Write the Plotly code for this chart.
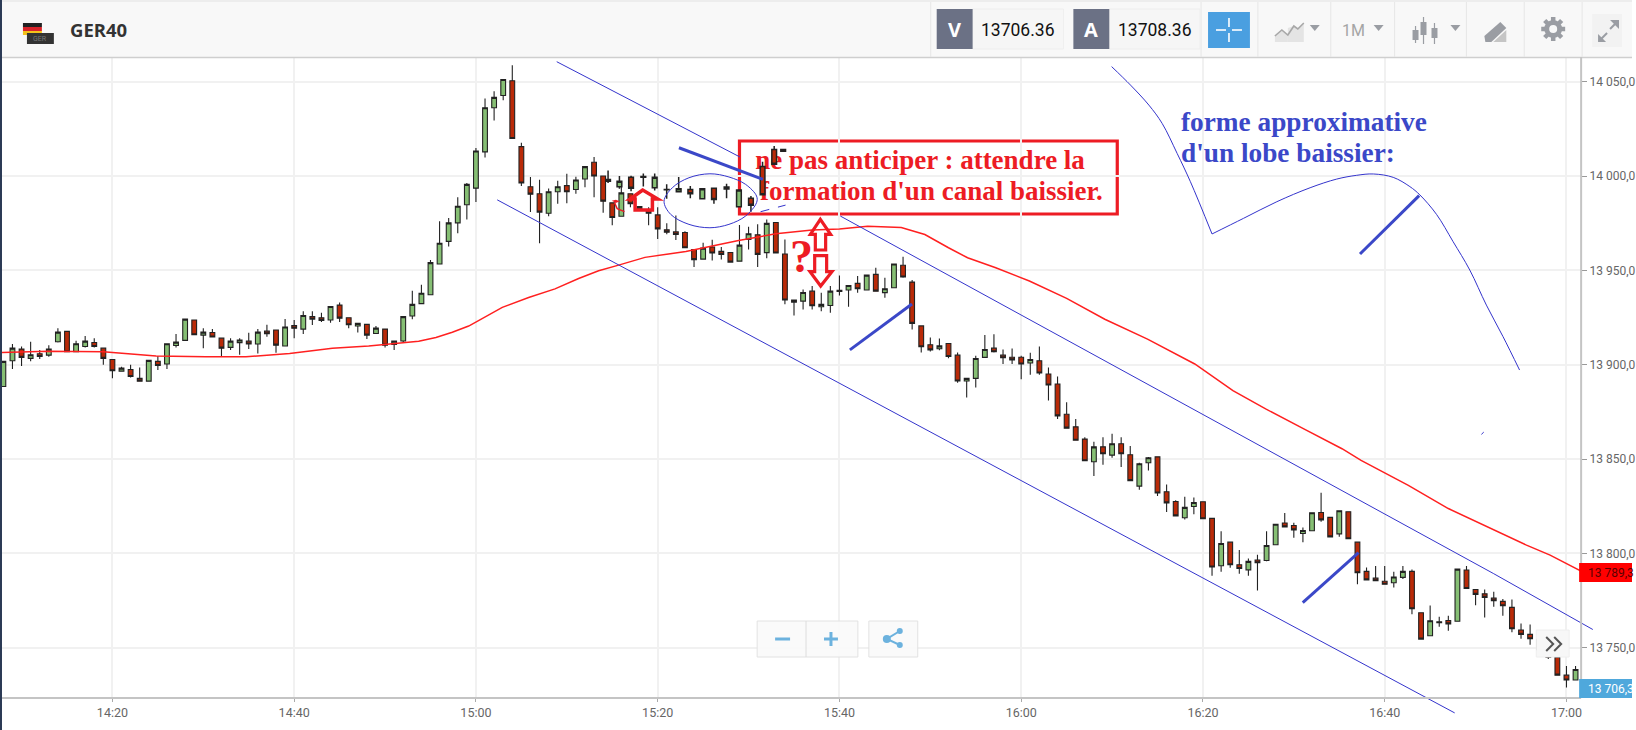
import plotly.graph_objects as go

W = 1636
H = 730

# candles, one per minute, minutes counted from 14:00
minutes = list(range(8, 182))
opens = [
    13888.5, 13902.1, 13908.3, 13903.4, 13905.8, 13905.1, 13912.2, 13917.7, 13906.9, 13909.7,
    13911.8, 13908.8, 13902.8, 13896.6, 13897.5, 13892.8, 13891.3, 13901.8, 13900.4, 13910.2,
    13912.9, 13923.7, 13915.7, 13917.1, 13914.1, 13909.2, 13911.7, 13912.5, 13911.0, 13917.8,
    13918.4, 13909.9, 13920.8, 13918.9, 13925.6, 13924.9, 13923.7, 13931.6, 13924.9, 13920.5,
    13921.4, 13916.6, 13918.9, 13910.8, 13912.6, 13925.8, 13932.4, 13937.1, 13953.4, 13965.4,
    13975.2, 13984.8, 13993.6, 14012.8, 14036.2, 14042.7, 14050.5, 14015.6, 13994.3, 13990.6,
    13980.3, 13991.7, 13994.9, 13992.9, 13998.4, 14007.3, 14000.0, 13985.8, 13978.7, 13990.6,
    13983.9, 13982.1, 13979.4, 13971.5, 13970.4, 13970.1, 13961.1, 13956.0, 13962.4, 13960.1,
    13959.5, 13954.9, 13966.4, 13968.9, 13959.4, 13975.4, 13958.7, 13934.3, 13933.7, 13939.0,
    13930.7, 13931.4, 13938.9, 13939.6, 13943.1, 13939.6, 13947.9, 13938.2, 13940.8, 13952.7,
    13943.8, 13920.6, 13910.6, 13908.5, 13911.3, 13905.1, 13891.4, 13892.8, 13903.9, 13908.8,
    13905.1, 13904.0, 13904.0, 13900.9, 13902.1, 13895.1, 13889.8, 13873.8, 13867.1, 13860.6,
    13848.6, 13856.5, 13852.1, 13858.1, 13852.3, 13835.7, 13848.1, 13851.2, 13832.7, 13827.5,
    13818.9, 13824.9, 13827.4, 13818.6, 13793.5, 13806.0, 13794.0, 13791.3, 13796.5, 13796.3,
    13804.6, 13816.1, 13814.8, 13810.6, 13812.0, 13821.7, 13819.1, 13810.4, 13822.1, 13806.0,
    13790.5, 13786.9, 13785.3, 13784.5, 13787.3, 13790.5, 13768.6, 13756.4, 13763.3, 13764.5,
    13764.1, 13791.2, 13780.9, 13778.6, 13776.3, 13774.6, 13771.4, 13759.4, 13757.1, 13754.5,
    13749.0, 13745.0, 13735.5, 13732.9,
]
highs = [
    13901.8, 13911.0, 13909.7, 13912.2, 13907.8, 13910.4, 13919.4, 13917.7, 13912.7, 13915.2,
    13914.1, 13908.8, 13902.8, 13898.9, 13900.0, 13898.6, 13902.3, 13904.6, 13911.1, 13916.3,
    13924.2, 13923.7, 13919.4, 13918.9, 13914.1, 13914.1, 13914.1, 13917.0, 13918.9, 13921.2,
    13918.4, 13924.2, 13923.7, 13928.3, 13928.3, 13927.6, 13930.9, 13933.0, 13924.9, 13922.3,
    13921.4, 13920.5, 13918.9, 13912.5, 13925.5, 13939.2, 13942.4, 13955.5, 13976.1, 13977.8,
    13988.7, 13996.3, 14014.9, 14041.1, 14044.9, 14051.2, 14058.7, 14017.7, 13999.5, 13998.0,
    13993.4, 13997.5, 14001.2, 13999.6, 14005.0, 14010.1, 14000.0, 13985.8, 13995.0, 13990.6,
    13984.0, 13983.5, 13983.5, 13975.0, 13979.1, 13970.8, 13961.1, 13964.7, 13966.3, 13962.4,
    13959.5, 13974.0, 13973.1, 13974.4, 13977.0, 13975.4, 13966.4, 13934.3, 13939.9, 13941.7,
    13938.2, 13941.7, 13947.3, 13942.0, 13947.0, 13947.5, 13951.4, 13946.1, 13953.4, 13957.2,
    13944.9, 13920.6, 13914.4, 13913.9, 13911.3, 13906.5, 13892.8, 13904.8, 13915.7, 13916.2,
    13908.1, 13908.6, 13904.8, 13906.3, 13909.7, 13898.6, 13893.8, 13880.1, 13871.3, 13861.6,
    13859.2, 13861.6, 13863.4, 13861.6, 13856.9, 13848.1, 13851.1, 13851.2, 13836.6, 13828.2,
    13830.0, 13829.7, 13827.4, 13818.6, 13811.8, 13806.0, 13801.8, 13797.3, 13799.3, 13811.8,
    13815.5, 13821.4, 13816.3, 13813.8, 13821.6, 13832.2, 13819.1, 13822.6, 13822.1, 13806.0,
    13792.6, 13793.3, 13793.3, 13790.3, 13793.3, 13791.5, 13768.6, 13772.4, 13766.4, 13767.0,
    13791.7, 13793.3, 13780.9, 13780.9, 13779.7, 13775.8, 13775.6, 13762.9, 13762.4, 13755.0,
    13749.5, 13745.0, 13740.3, 13740.3,
]
lows = [
    13888.5, 13897.7, 13899.3, 13901.8, 13903.0, 13904.2, 13911.8, 13906.9, 13906.9, 13909.2,
    13909.2, 13900.0, 13892.9, 13896.3, 13893.3, 13891.3, 13891.3, 13897.2, 13897.7, 13909.2,
    13912.9, 13915.9, 13908.8, 13914.7, 13904.2, 13907.8, 13905.3, 13908.3, 13906.0, 13914.8,
    13906.4, 13909.9, 13914.1, 13916.3, 13921.0, 13922.6, 13922.3, 13922.6, 13919.4, 13917.1,
    13913.6, 13916.6, 13909.2, 13907.8, 13911.7, 13924.1, 13932.4, 13937.1, 13953.4, 13962.6,
    13969.7, 13977.0, 13986.3, 14009.8, 14029.4, 14040.2, 14019.9, 13994.7, 13981.0, 13964.4,
    13978.7, 13985.3, 13985.6, 13990.6, 13994.1, 13988.8, 13980.5, 13973.9, 13978.7, 13983.5,
    13982.0, 13973.9, 13966.7, 13969.1, 13966.1, 13962.0, 13951.8, 13956.0, 13955.3, 13955.8,
    13954.1, 13954.9, 13961.1, 13951.8, 13956.4, 13959.0, 13932.0, 13926.1, 13929.3, 13929.3,
    13928.4, 13927.6, 13936.7, 13930.7, 13938.2, 13939.6, 13939.0, 13935.5, 13940.8, 13946.1,
    13918.7, 13906.5, 13907.0, 13907.7, 13903.5, 13890.5, 13882.7, 13888.0, 13903.9, 13906.5,
    13900.4, 13900.4, 13892.3, 13894.7, 13894.7, 13881.0, 13871.3, 13866.4, 13860.0, 13849.1,
    13841.0, 13847.0, 13850.7, 13845.8, 13838.6, 13833.8, 13844.0, 13830.5, 13822.0, 13819.9,
    13818.0, 13820.8, 13818.4, 13788.2, 13790.3, 13792.4, 13789.2, 13788.2, 13780.4, 13795.9,
    13804.6, 13814.1, 13808.3, 13806.0, 13812.0, 13816.8, 13808.8, 13808.8, 13807.8, 13783.7,
    13786.0, 13785.5, 13783.7, 13782.0, 13786.4, 13767.8, 13754.6, 13756.4, 13761.1, 13759.0,
    13764.1, 13781.4, 13772.6, 13766.1, 13771.7, 13767.0, 13758.3, 13754.8, 13751.6, 13747.0,
    13744.0, 13735.5, 13729.0, 13732.9,
]
closes = [
    13901.8, 13908.8, 13903.9, 13905.3, 13904.4, 13908.3, 13917.3, 13906.9, 13911.1, 13912.5,
    13909.7, 13903.4, 13896.8, 13898.2, 13893.8, 13891.3, 13902.3, 13899.6, 13911.1, 13912.0,
    13924.2, 13915.9, 13917.3, 13914.7, 13908.8, 13912.5, 13913.1, 13911.0, 13917.3, 13916.4,
    13910.4, 13920.0, 13919.4, 13926.1, 13924.2, 13923.5, 13930.9, 13924.7, 13921.2, 13921.9,
    13915.7, 13919.4, 13910.4, 13912.5, 13925.5, 13932.0, 13937.9, 13954.1, 13964.4, 13975.2,
    13984.0, 13995.6, 14013.3, 14036.2, 14041.7, 14051.2, 14019.9, 13996.3, 13990.4, 13980.9,
    13991.7, 13994.3, 13991.7, 13997.9, 14005.0, 14000.0, 13986.7, 13978.0, 13991.1, 13985.3,
    13982.8, 13980.3, 13972.0, 13970.2, 13969.0, 13962.0, 13955.7, 13961.8, 13959.2, 13958.5,
    13954.4, 13963.4, 13969.4, 13958.5, 13974.9, 13959.2, 13934.3, 13933.2, 13938.3, 13931.3,
    13932.0, 13939.0, 13939.4, 13942.0, 13940.3, 13947.5, 13939.0, 13940.3, 13953.4, 13946.5,
    13921.9, 13909.5, 13907.9, 13910.0, 13904.4, 13891.4, 13892.8, 13903.3, 13908.1, 13906.9,
    13903.7, 13902.6, 13900.4, 13902.8, 13895.6, 13889.3, 13872.9, 13866.4, 13860.0, 13849.1,
    13856.5, 13852.8, 13858.1, 13852.8, 13838.6, 13847.5, 13850.7, 13832.0, 13826.8, 13819.9,
    13824.4, 13827.0, 13818.4, 13792.8, 13805.3, 13794.0, 13792.0, 13795.8, 13795.1, 13804.2,
    13815.5, 13814.1, 13812.5, 13812.2, 13821.6, 13817.8, 13808.8, 13822.6, 13807.8, 13789.8,
    13786.0, 13785.5, 13783.7, 13787.5, 13790.5, 13770.7, 13754.6, 13764.3, 13763.8, 13762.7,
    13791.7, 13781.4, 13778.3, 13776.7, 13774.9, 13772.3, 13760.1, 13757.1, 13754.8, 13749.0,
    13745.0, 13735.5, 13732.9, 13738.5,
]

# the enlarged strip of candles pasted over the chart by the author
paste_minutes = [74.54, 75.79, 77.07, 78.42, 79.67, 80.99, 82.31, 83.59,
                 84.91, 86.19, 87.58, 88.94, 90.26, 91.54, 92.82, 93.81]
paste_open = [13998.2, 13994.3, 13999.3, 13999.3, 13993.8, 13992.7, 13991.7, 13992.9,
              13988.0, 13993.5, 13993.1, 13983.7, 13988.2, 14005.1, 14014.1, 14014.1]
paste_high = [14003.0, 14000.0, 14000.2, 14001.4, 14001.4, 13995.6, 13999.5, 13994.7,
              13993.3, 13993.5, 13995.9, 13992.6, 13989.4, 14007.6, 14015.9, 14014.1]
paste_low = [13996.3, 13993.3, 13992.0, 13994.5, 13992.4, 13988.0, 13991.7, 13988.2,
             13988.0, 13985.3, 13988.2, 13983.7, 13981.1, 13990.1, 14006.2, 14013.2]
paste_close = [13997.3, 13997.3, 13993.6, 13999.8, 13999.3, 13992.9, 13993.3, 13990.6,
               13993.3, 13987.6, 13994.2, 13992.6, 13984.5, 13990.1, 14006.2, 14013.2]

# moving average
ma_minutes = [7.6, 12.9, 19.0, 24.8, 30.3, 34.7, 39.5, 44.2, 48.2, 51.9, 53.7, 55.6, 57.4, 59.2,
              61.1, 62.9, 65.8, 68.7, 71.3, 73.5, 75.7, 78.6, 83.1, 88.9, 93.0, 97.0, 100.0,
              103.1, 106.8, 109.4, 112.0, 114.1, 117.2, 120.9, 125.0, 129.2, 133.9, 139.1,
              143.3, 146.9, 151.1, 155.3, 157.4, 162.6, 167.0, 172.0, 175.6, 178.2, 181.6]
ma_values = [13906.5, 13907.2, 13906.9, 13904.6, 13904.2, 13904.2, 13906.0, 13908.7, 13909.9,
             13911.4, 13912.4, 13914.4, 13917.2, 13920.5, 13925.5, 13930.4, 13935.6, 13940.2,
             13945.7, 13949.8, 13952.8, 13956.9, 13960.0, 13965.9, 13969.4, 13971.4, 13972.0,
             13973.4, 13972.7, 13969.0, 13962.0, 13956.7, 13951.4, 13944.4, 13935.2, 13924.1,
             13913.6, 13900.4, 13886.3, 13876.6, 13866.0, 13855.5, 13849.3, 13836.1, 13823.8,
             13812.3, 13804.4, 13799.1, 13790.7]

# hand drawn lines, the gap is where the text box hides the upper channel
upper_minutes = [68.89, 89.05, None, 100.1, 171.95, 182.9]
upper_values = [14060.6, 14010.1, None, 13978.8, 13789.4, 13759.7]
lower_minutes = [62.34, 167.7]
lower_values = [13987.4, 13715.5]
lobe_left_minutes = [129.95, 132.03, 134.05, 135.51, 137.16, 138.62, 141.0]
lobe_left_values = [14058.0, 14048.2, 14037.6, 14027.9, 14012.0, 13997.0, 13969.3]
lobe_right_minutes = [141.0, 144.47, 148.13, 151.79, 154.72, 156.92, 158.75, 160.94, 162.77,
                      163.87, 165.7, 167.53, 169.36, 171.19, 173.02, 174.84]
lobe_right_values = [13969.3, 13977.6, 13986.4, 13993.8, 13998.4, 14000.4, 14001.1, 13999.3,
                     13994.4, 13990.0, 13979.7, 13965.2, 13950.2, 13931.6, 13914.9, 13897.2]
speck_minutes = [170.64, 170.9]
speck_values = [13863.1, 13864.3]
ellipse_minutes = [90.88, 89.67, 87.84, 85.75, 83.44, 81.61, 80.7, 81.43, 83.44, 85.75, 87.84,
                   89.67, 90.88, 90.88]
ellipse_values = [13989.4, 13995.6, 13999.5, 14001.2, 13999.1, 13993.8, 13986.7, 13979.7,
                  13974.4, 13972.6, 13974.4, 13978.8, 13985.9, 13989.4]
tail_minutes = [91.32, 94.07]
tail_values = [13981.1, 13984.6]
strokes = [
    ([82.34, 91.58], [14015.0, 13998.2]),
    ([101.15, 107.98], [13907.9, 13932.2]),
    ([150.98, 157.12], [13773.9, 13800.5]),
    ([157.28, 163.79], [13958.7, 13989.6]),
]

x_ticks = [20, 40, 60, 80, 100, 120, 140, 160, 180]
x_labels = ["14:20", "14:40", "15:00", "15:20", "15:40", "16:00", "16:20", "16:40", "17:00"]
y_ticks = [13750, 13800, 13850, 13900, 13950, 14000, 14050]
y_labels = ["13 750,0", "13 800,0", "13 850,0", "13 900,0", "13 950,0", "14 000,0", "14 050,0"]

GREEN = "#86bf74"
RED = "#b92a08"
BLUE = "#3b48c8"
ALERT = "#ed1c24"
ICON = "#9a9da3"
SKY = "#6cb2de"
SERIF = "Liberation Serif"


# pixel <-> chart conversions
def minute_at(px):
    return 20 + (px - 112.7) / 9.11


def price_at(py):
    return 14050 - (py - 81.7) / 1.887


def fx(px):
    return px / W


def fy(py):
    return 1 - py / H


shapes = []
annotations = []


def rect(x0, y0, x1, y1, fill, line=None, width=1, layer="above"):
    shapes.append(dict(type="rect", xref="paper", yref="paper", x0=fx(x0), x1=fx(x1), y0=fy(y0), y1=fy(y1),
                       fillcolor=fill, line=dict(color=line or fill, width=width if line else 0), layer=layer))


def seg(x0, y0, x1, y1, color, width=1):
    shapes.append(dict(type="line", xref="paper", yref="paper", x0=fx(x0), x1=fx(x1), y0=fy(y0), y1=fy(y1),
                       line=dict(color=color, width=width), layer="above"))


def poly(points, line=None, width=1, fill="rgba(0,0,0,0)", close=True):
    path = "M " + " L ".join(f"{fx(a):.5f},{fy(b):.5f}" for a, b in points) + (" Z" if close else "")
    shapes.append(dict(type="path", xref="paper", yref="paper", path=path, fillcolor=fill,
                       line=dict(color=line or fill, width=width if line else 0), layer="above"))


def dot(cx, cy, r, fill, line=None, width=0):
    shapes.append(dict(type="circle", xref="paper", yref="paper", x0=fx(cx - r), x1=fx(cx + r), y0=fy(cy + r), y1=fy(cy - r),
                       fillcolor=fill, line=dict(color=line or fill, width=width), layer="above"))


def label(px, py, text, size, color, anchor="center", family="Roboto", bold=False):
    annotations.append(dict(xref="paper", yref="paper", x=fx(px), y=fy(py), text=f"<b>{text}</b>" if bold else text,
                            showarrow=False, xanchor=anchor, yanchor="middle", borderpad=0, borderwidth=0,
                            font=dict(size=size, color=color, family=family)))


fig = go.Figure()

fig.add_trace(go.Candlestick(
    x=minutes, open=opens, high=highs, low=lows, close=closes,
    increasing=dict(line=dict(color="#222222", width=1.1), fillcolor=GREEN),
    decreasing=dict(line=dict(color="#222222", width=1.1), fillcolor=RED),
    hoverinfo="skip",
))
fig.add_trace(go.Scatter(x=ma_minutes, y=ma_values, mode="lines", line=dict(color="#ff2020", width=1.5), hoverinfo="skip"))
fig.add_trace(go.Scatter(
    x=[minute_at(757), minute_at(762)], y=[price_at(162), price_at(193)],
    text=["ne pas anticiper : attendre la", "formation d'un canal baissier."],
    mode="text", textposition="middle right", hoverinfo="skip",
    textfont=dict(family=SERIF, size=27, color=ALERT, weight="bold"),
))

# overlay axes span the whole page, so the drawings may run past the price axis
fig.add_trace(go.Candlestick(
    x=paste_minutes, open=paste_open, high=paste_high, low=paste_low, close=paste_close,
    xaxis="x2", yaxis="y2",
    increasing=dict(line=dict(color="#222222", width=1.5), fillcolor=GREEN),
    decreasing=dict(line=dict(color="#222222", width=1.5), fillcolor=RED),
    hoverinfo="skip",
))
for xs, ys, dash, shape in [
    (upper_minutes, upper_values, "solid", "linear"),
    (lower_minutes, lower_values, "solid", "linear"),
    (lobe_left_minutes, lobe_left_values, "solid", "spline"),
    (lobe_right_minutes, lobe_right_values, "solid", "spline"),
    (speck_minutes, speck_values, "solid", "linear"),
    (ellipse_minutes, ellipse_values, "solid", "spline"),
    (tail_minutes, tail_values, "dash", "linear"),
]:
    fig.add_trace(go.Scatter(x=xs, y=ys, mode="lines", xaxis="x2", yaxis="y2", hoverinfo="skip",
                             line=dict(color="#3434cc", width=1, dash=dash, shape=shape)))
for xs, ys in strokes:
    fig.add_trace(go.Scatter(x=xs, y=ys, mode="lines", xaxis="x2", yaxis="y2", hoverinfo="skip",
                             line=dict(color=BLUE, width=3)))

# text box, on the chart axes so it hides the grid but stays under the candles
shapes.append(dict(type="rect", xref="x", yref="y", x0=minute_at(741.3), x1=minute_at(1120),
                   y0=price_at(214), y1=price_at(141), fillcolor="white",
                   line=dict(color=ALERT, width=3.2), layer="below"))

# red arrows and question mark
poly([(630 + a / 3, 120 + b / 3) for a, b in [(43, 210), (5, 237), (20, 237), (20, 270), (72, 270), (72, 237), (88, 237)]],
     line=ALERT, width=3.5)
poly([(630 + a / 3, 120 + b / 3) for a, b in [(577, 298), (547, 343), (562, 343), (562, 390), (593, 390), (593, 343), (608, 343)]],
     line=ALERT, width=3.2)
poly([(630 + a / 3, 120 + b / 3) for a, b in [(578, 498), (546, 455), (560, 455), (560, 407), (596, 407), (596, 455), (612, 455)]],
     line=ALERT, width=3.2)
poly([(380 + a / 3, 50 + b / 3) for a, b in [(700, 452), (712, 449), (724, 454), (712, 459)]], fill=ALERT)
poly([(380 + a / 3, 50 + b / 3) for a, b in [(708, 458), (716, 476), (738, 485)]], line=ALERT, width=1.5, close=False)
label(803, 256, "?", 46, ALERT, family=SERIF, bold=True)
label(1184, 122, "forme approximative", 27.3, BLUE, anchor="left", family=SERIF, bold=True)
label(1184, 153, "d'un lobe baissier:", 27.3, BLUE, anchor="left", family=SERIF, bold=True)

# toolbar
rect(0, 0, W, 57, "#f8f8f8")
rect(0, 0, W, 2, "#ededed")
seg(2, 57.5, W, 57.5, "#cfcfcf", 1.5)
rect(0, 0, 2, H, "#2b3a55")
rect(23, 23, 42, 27, "#222222")
rect(23, 27, 42, 31, "#d8232a")
rect(23, 31, 42, 35, "#f3c21b")
rect(27, 33, 54, 44, "#333333")
label(40.5, 38.5, "GER", 7, "#777777")
label(70, 30, "GER40", 18.5, "#333333", anchor="left", family="Open Sans", bold=True)
for sep in [933, 1204, 1261, 1334, 1398, 1470, 1528, 1586]:
    seg(sep, 2, sep, 57, "#e6e6e6")
for box, text, val in [(939, "V", "13706.36"), (1076, "A", "13708.36")]:
    rect(box + 36, 9, box + 127, 49, "#f6f6f6", "#eeeeee")
    rect(box, 9, box + 36, 49, "#6b7185")
    label(box + 18, 30, text, 20, "white", family="Open Sans", bold=True)
    label(box + 81, 29.5, val, 17.5, "#111111")
rect(1211, 12, 1253, 48, "#4a9fe0")
seg(1232, 18, 1232, 27, "white", 1.6)
seg(1232, 33, 1232, 42, "white", 1.6)
seg(1219, 30, 1229, 30, "white", 1.6)
seg(1235, 30, 1245, 30, "white", 1.6)
poly([(1278, 42), (1278, 36), (1285, 30), (1291, 35), (1291, 42)], fill="#e4e4e4")
poly([(1291, 42), (1291, 28), (1297, 26), (1301, 29), (1307, 23), (1307, 42)], fill="#e4e4e4")
poly([(1278, 36), (1285, 30), (1291, 35), (1297, 26), (1301, 29), (1307, 23)], line="#a8a8a8", width=1.6, close=False)
poly([(1313, 25), (1323, 25), (1318, 31)], fill=ICON)
label(1357, 31, "1M", 16, "#a5a5a5")
poly([(1377, 25), (1387, 25), (1382, 31)], fill=ICON)
for cx, y0, y1, b0, b1 in [(1419, 26, 43, 30, 40), (1427, 17, 44, 22, 35), (1438, 23, 44, 28, 38)]:
    seg(cx, y0, cx, y1, ICON, 1.2)
    rect(cx - 3, b0, cx + 3, b1, ICON)
poly([(1454, 25), (1464, 25), (1459, 31)], fill=ICON)
poly([(1488, 36), (1504, 22), (1510, 28), (1495, 42), (1489, 42)], fill=ICON)
poly([(1497, 42), (1510, 30), (1510, 42)], fill="#c5c5c5")
# gear
for a0, b0, a1, b1 in [(1557, 17, 1557, 41), (1545, 29, 1569, 29), (1548.5, 20.5, 1565.5, 37.5), (1548.5, 37.5, 1565.5, 20.5)]:
    seg(a0, b0, a1, b1, ICON, 4.5)
dot(1557, 29, 9, ICON)
dot(1557, 29, 4, "#f8f8f8")
rect(1596, 14, 1626, 47, "#f2f2f2")
seg(1603, 41, 1611, 33, ICON, 2)
seg(1614, 29, 1621, 22, ICON, 2)
poly([(1602, 34), (1602, 42), (1610, 42)], fill=ICON)
poly([(1614, 20), (1623, 20), (1623, 29)], fill=ICON)

# bottom and right borders, price tags
seg(2, 698, 1585, 698, "#c4c4c4", 2)
seg(1585, 57, 1585, 698, "#c4c4c4", 2)
rect(1583, 563, W, 582, "#ff0000")
label(1592, 573, "13 789,3", 12, "#5a0000", anchor="left")
rect(1583, 679, W, 698, "#4fa8dc")
label(1592, 689, "13 706,3", 12, "white", anchor="left")

# floating buttons
rect(759, 621, 860, 657, "rgba(250,250,250,0.92)", "#e2e2e2")
seg(808, 621, 808, 657, "#dddddd")
seg(777, 639, 792, 639, SKY, 3)
seg(826, 639, 840, 639, SKY, 3)
seg(833, 632, 833, 646, SKY, 3)
rect(871, 621, 920, 657, "rgba(250,250,250,0.92)", "#e2e2e2")
poly([(902, 631), (889, 639), (902, 645)], line=SKY, width=2, close=False)
for cx, cy, r in [(902, 631, 3), (889, 639, 4), (902, 645, 3)]:
    dot(cx, cy, r, SKY)
rect(1540, 630, 1573, 657, "#f7f7f7", "#eeeeee")
poly([(1550, 637), (1557, 644), (1550, 651)], line="#555555", width=2, close=False)
poly([(1558, 637), (1565, 644), (1558, 651)], line="#555555", width=2, close=False)

fig.update_layout(
    width=W,
    height=H,
    margin=dict(l=0, r=0, t=0, b=0),
    showlegend=False,
    hovermode=False,
    paper_bgcolor="white",
    plot_bgcolor="rgba(0,0,0,0)",
    boxgap=0.25,
    shapes=shapes,
    annotations=annotations,
    xaxis=dict(
        domain=[fx(2), fx(1585)],
        range=[minute_at(2), minute_at(1585)],
        anchor="y",
        tickmode="array",
        tickvals=x_ticks,
        ticktext=x_labels,
        ticks="outside",
        ticklen=3,
        tickcolor="#aaaaaa",
        tickfont=dict(family="Roboto", size=12.5, color="#666666"),
        showgrid=True,
        gridcolor="#f1f1f1",
        gridwidth=1.5,
        zeroline=False,
        rangeslider=dict(visible=False),
    ),
    yaxis=dict(
        domain=[fy(698), fy(57)],
        range=[price_at(698), price_at(57)],
        anchor="x",
        side="right",
        tickmode="array",
        tickvals=y_ticks,
        ticktext=y_labels,
        ticks="outside",
        ticklen=5,
        tickcolor="#999999",
        tickfont=dict(family="Roboto", size=12, color="#666666"),
        showgrid=True,
        gridcolor="#f1f1f1",
        gridwidth=1.5,
        zeroline=False,
    ),
    xaxis2=dict(domain=[0, 1], range=[minute_at(0), minute_at(W)], anchor="y2", visible=False,
                rangeslider=dict(visible=False)),
    yaxis2=dict(domain=[0, 1], range=[price_at(H), price_at(0)], anchor="x2", visible=False),
)

for arr in (opens, highs, lows, closes):
    if len(arr) != len(minutes):
        raise ValueError(f"candle list has {len(arr)} values, expected {len(minutes)}")

# the page's default body margin would push the chart off the window
fig.write_html(
    "out.html",
    config={"displayModeBar": False},
    post_script="document.body.style.margin = '0'; document.documentElement.style.overflow = 'hidden';",
)
